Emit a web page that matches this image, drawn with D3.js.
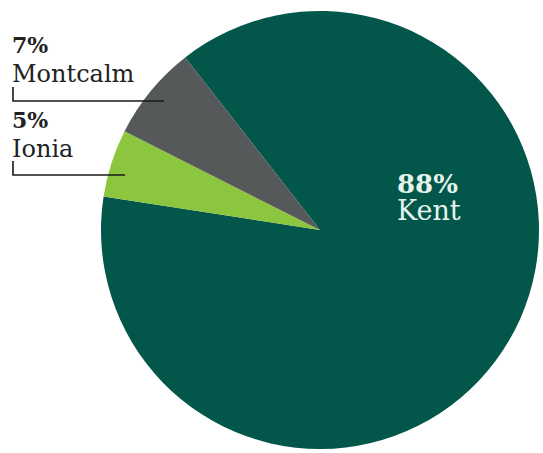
<!DOCTYPE html>
<html>
<head>
<meta charset="utf-8">
<script src="https://cdn.jsdelivr.net/npm/d3@7"></script>
<style>
  body { margin: 0; background: #fff; }
  svg { display: block; }
  text { font-family: "DejaVu Serif", serif; }
</style>
</head>
<body>
<svg id="chart" width="543" height="453"></svg>
<script>
const counties = ['Kent', 'Ionia', 'Montcalm'];
const shares = [88, 5, 7];
const colors = ['#02574a', '#8cc63f', '#55595a'];

const svg = d3.select("#chart");

const cx = 320, cy = 230, radius = 219;

const g = svg.append("g")
	.attr("transform", "translate(" + cx + "," + cy + ")");

const pie = d3.pie()
	.sort(null)
	.value(d => d)
	.startAngle(-38 * Math.PI / 180)
	.endAngle(-38 * Math.PI / 180 + 2 * Math.PI);

const arc = d3.arc()
	.innerRadius(0)
	.outerRadius(radius);

const arcs = pie(shares);

g.selectAll("path")
	.data(arcs)
	.enter()
	.append("path")
	.attr("d", arc)
	.attr("fill", (d, i) => colors[i]);

// Kent label inside the big slice
const kent = svg.append("text")
	.attr("x", 397)
	.attr("y", 193)
	.attr("fill", "#e4f3ec");
kent.append("tspan")
	.attr("font-weight", "bold")
	.attr("font-size", 26)
	.text(shares[0] + "%");
kent.append("tspan")
	.attr("x", 397)
	.attr("y", 220)
	.attr("font-size", 27)
	.text(counties[0]);

// outside labels with leader lines
const outside = [
	{i: 2, top: 53, lineY: 101, lineEnd: 164},
	{i: 1, top: 128, lineY: 175, lineEnd: 125}
];

outside.forEach(o => {
	const t = svg.append("text")
		.attr("x", 12)
		.attr("y", o.top)
		.attr("fill", "#222");
	t.append("tspan")
		.attr("font-weight", "bold")
		.attr("font-size", 22)
		.text(shares[o.i] + "%");
	t.append("tspan")
		.attr("x", 12)
		.attr("y", o.top + 29)
		.attr("font-size", 24)
		.text(counties[o.i]);

	svg.append("path")
		.attr("d", "M13," + (o.lineY - 14) + "V" + o.lineY + "H" + o.lineEnd)
		.attr("fill", "none")
		.attr("stroke", "#1a1a1a")
		.attr("stroke-width", 1.6);
});
</script>
</body>
</html>
